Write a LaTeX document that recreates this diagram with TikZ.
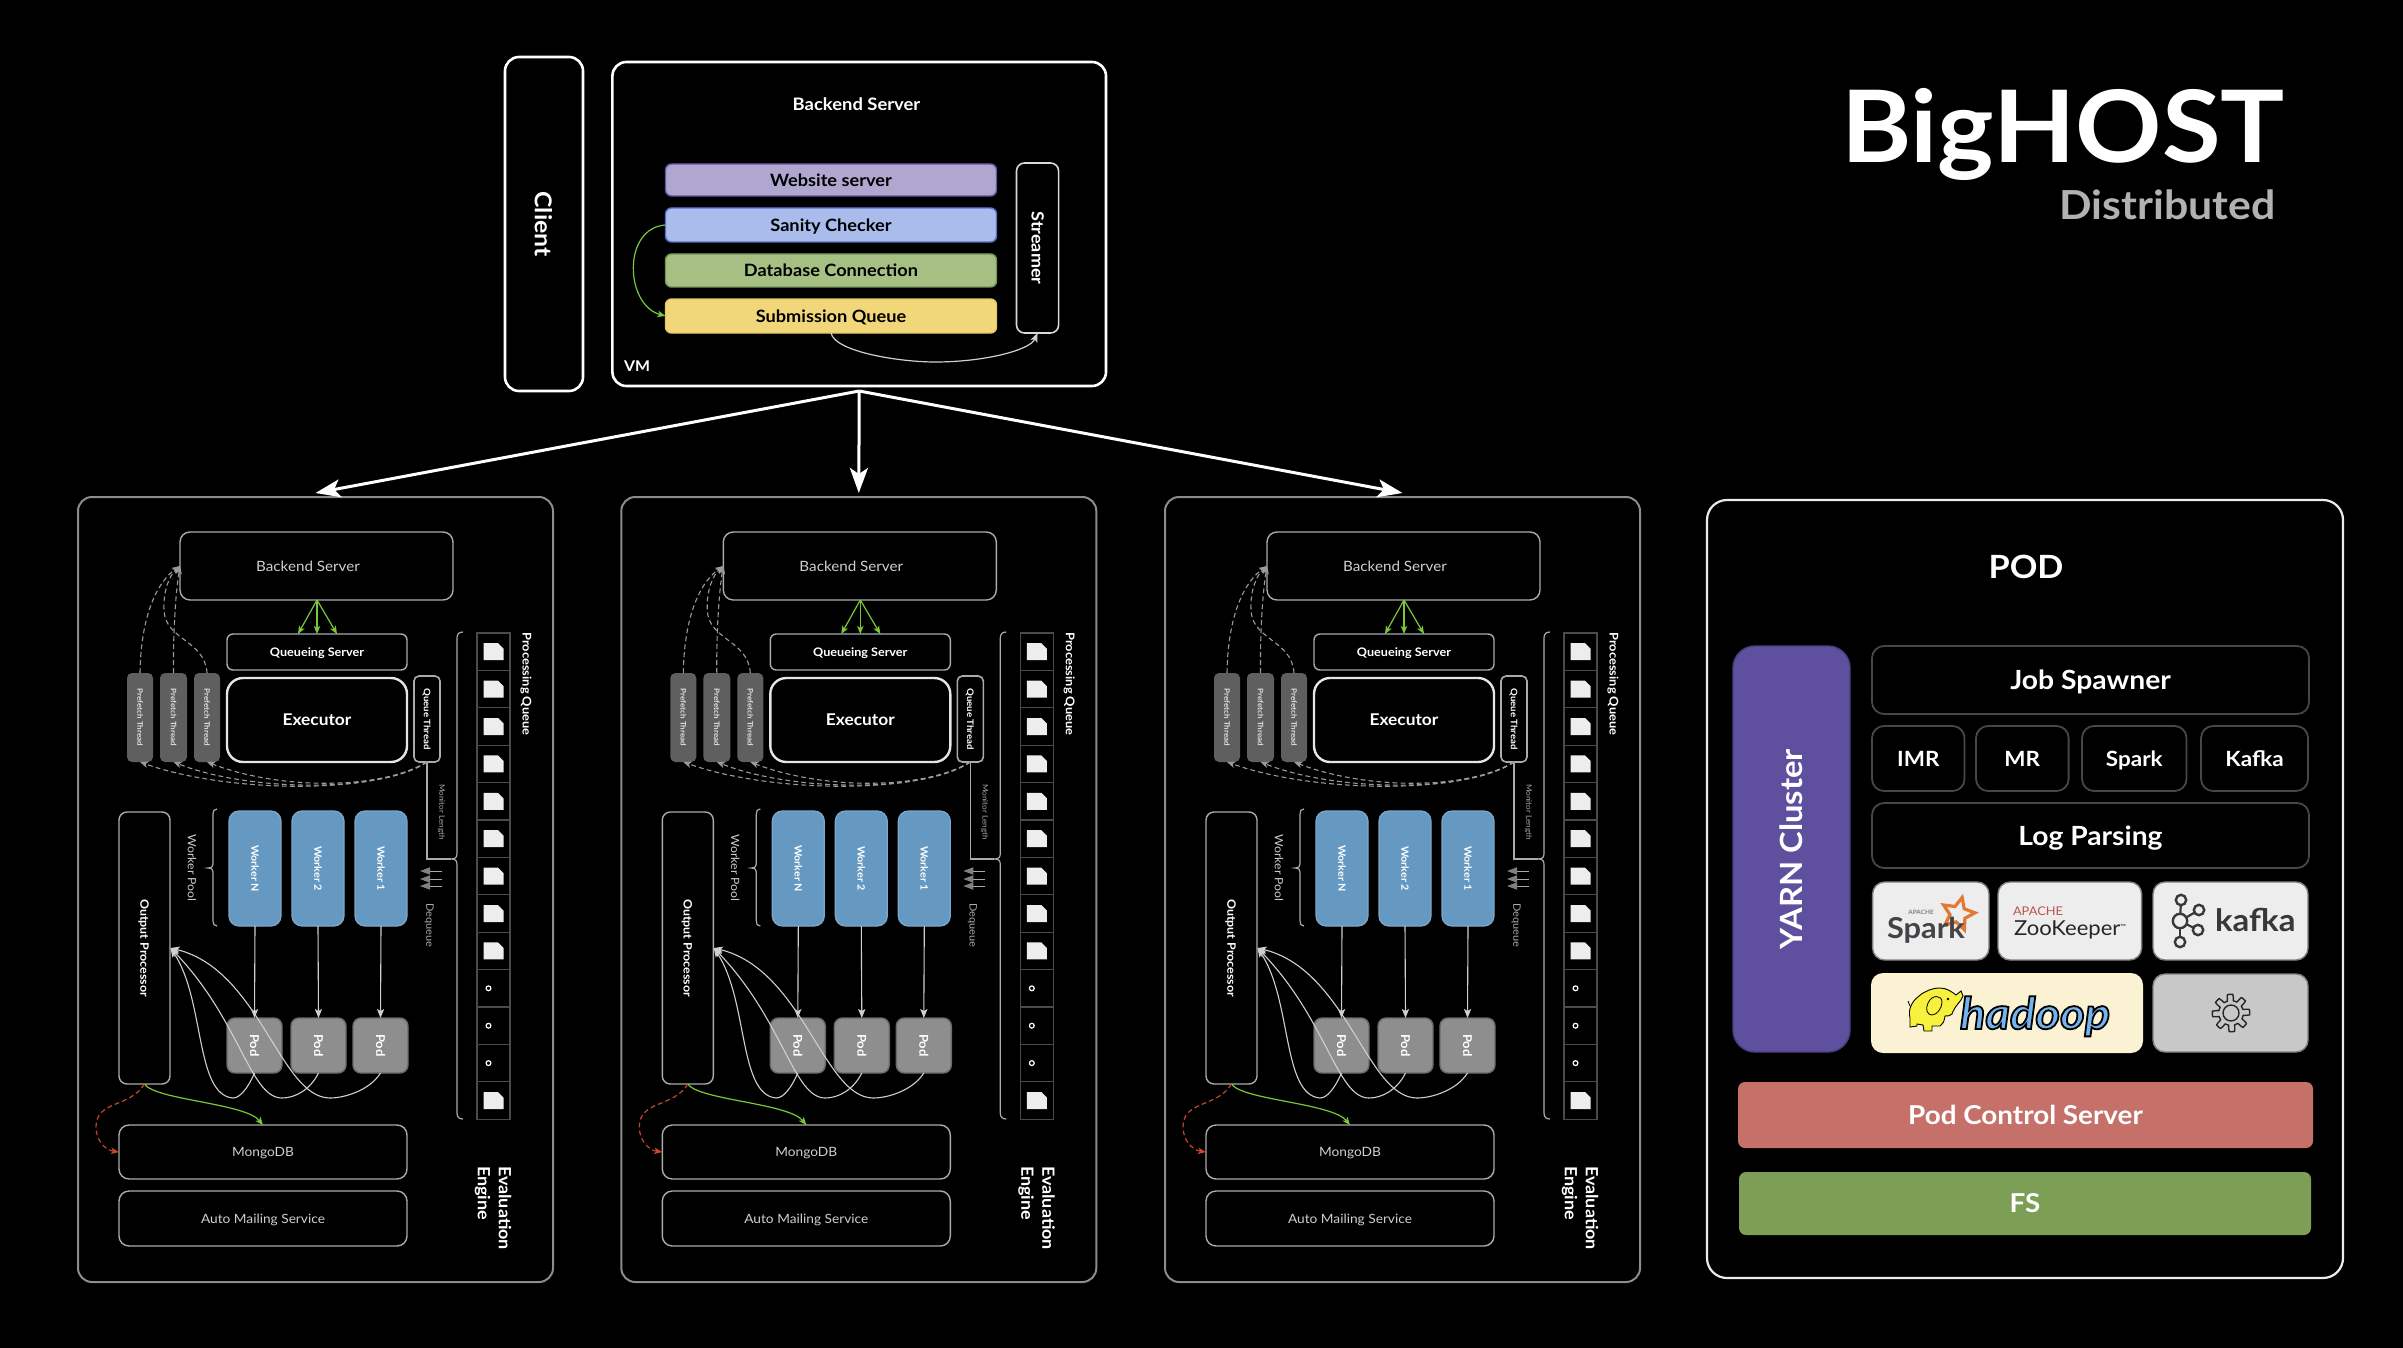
\documentclass[tikz,border=0pt]{standalone}
\usepackage{graphicx}
\usepackage{fontspec}
\setmainfont{Lato}[FakeStretch=1.07]
\usetikzlibrary{arrows.meta,shapes.geometric,calc}
\definecolor{pborder}{HTML}{8C8C8C}
\definecolor{iborder}{HTML}{ABABAB}
\definecolor{softtxt}{HTML}{CFCFCF}
\definecolor{dimb}{HTML}{474747}
\definecolor{cellb}{HTML}{4A4A4A}
\definecolor{grn}{HTML}{78C83A}
\definecolor{redd}{HTML}{C8472A}
\definecolor{dashc}{HTML}{9A9A9A}
\definecolor{workerc}{HTML}{6699C2}
\definecolor{podc}{HTML}{8E8E8E}
\definecolor{prefc}{HTML}{5F5F5F}
\definecolor{purp}{HTML}{5E4F9F}
\definecolor{logoc}{HTML}{EDEDED}
\newcommand{\fs}[1]{\fontsize{#1}{#1}\selectfont}
\newcommand{\ct}[1]{\rule{0pt}{.72em}\smash{#1}}
\newcommand{\cw}[1]{\rotatebox{-90}{\ct{#1}}}
\newcommand{\ccw}[1]{\rotatebox{90}{\ct{#1}}}
\newcommand{\bx}[7][]{\node[bxbase,#1,minimum width={((#5)-(#3))*.5pt},minimum height={((#6)-(#4))*.5pt}] (#2) at ({((#3)+(#5))/2},{((#4)+(#6))/2}) {#7};}
\newcommand{\bxh}[7][]{\bx[#1]{#2}{#3}{#4}{#5}{#6}{\ct{#7}}}
\tikzset{
  bxbase/.style={inner sep=0pt,outer sep=0pt,align=center,text=white},
  panelbox/.style={draw=pborder,line width=1pt,rounded corners=7pt},
  thinbox/.style={draw=iborder,line width=.7pt,rounded corners=5pt,text=softtxt,font=\fs{6.4}},
  qsbox/.style={draw=iborder,line width=.7pt,rounded corners=3pt,font=\fs{5.9}\bfseries},
  execbox/.style={draw=white!90!black,line width=1.2pt,rounded corners=8pt,font=\fs{8.1}\bfseries},
  qtbox/.style={draw=iborder,line width=.8pt,rounded corners=2.5pt,font=\fs{4.5}\bfseries},
  prefbox/.style={fill=prefc,rounded corners=2.5pt,font=\fs{3.75}\bfseries,text=white!88!black},
  opbox/.style={draw=iborder,line width=.7pt,rounded corners=4pt,font=\fs{5.8}\bfseries},
  workerbox/.style={fill=workerc,draw=workerc!85!white,line width=.6pt,rounded corners=5pt,font=\fs{5}\bfseries},
  podbox/.style={fill=podc,draw=podc!75!black,line width=.7pt,rounded corners=4pt,font=\fs{6.1}\bfseries},
  cellbox/.style={draw=cellb,line width=.6pt,minimum width=16.5pt,minimum height=18.7pt,inner sep=0pt,outer sep=0pt},
  lab/.style={inner sep=0pt,outer sep=0pt,text=white,align=center},
  sw/.style={line width=.55pt,draw=softtxt},
  vmbox/.style={draw=white,line width=1.3pt,rounded corners=7pt},
  bar/.style={rounded corners=3pt,line width=.7pt,font=\fs{8.5}\bfseries,text=black},
  dbox/.style={draw=dimb,line width=.9pt,rounded corners=6pt,font=\fs{13.2}\bfseries},
  dboxs/.style={draw=dimb,line width=.9pt,rounded corners=6pt,font=\fs{10.5}\bfseries},
  logobox/.style={fill=logoc,draw=gray,line width=.7pt,rounded corners=6pt},
  solidbar/.style={rounded corners=3.5pt,font=\fs{13}\bfseries},
  tipw/.style={-{Stealth[length=4.5pt,width=3.6pt,inset=1pt]}},
  tipg/.style={-{Stealth[length=4pt,width=3.2pt,inset=1pt]}}
}
\newcommand{\evalpanel}[2]{%
\begin{scope}[shift={(#2,0)},name prefix=#1-]
\bx[panelbox]{panel}{78}{497}{553}{1282}{}
\bxh[thinbox,font=\fs{7.1}]{backend}{180}{532}{453}{600}{\kern-8.5pt Backend Server}
\bxh[qsbox]{qs}{227}{634}{407}{670}{Queueing Server}
\bxh[execbox]{exec}{227}{678}{407}{762}{Executor}
\bx[qtbox]{qt}{414}{676}{440}{762}{\cw{Queue Thread}}
\bx[prefbox]{pfa}{127}{673}{153}{762}{\cw{Prefetch Thread}}
\bx[prefbox]{pfb}{160}{673}{187}{762}{\cw{Prefetch Thread}}
\bx[prefbox]{pfc}{194}{673}{220}{762}{\cw{Prefetch Thread}}
\bx[opbox]{op}{119}{812}{170}{1084}{\cw{Output Processor}}
\bx[workerbox]{wn}{229}{811}{281}{926}{\cw{Worker N}}
\bx[workerbox]{wt}{292}{811}{344}{926}{\cw{Worker 2}}
\bx[workerbox]{wo}{355}{811}{407}{926}{\cw{Worker 1}}
\bx[podbox]{pa}{227}{1018}{282}{1073}{\cw{Pod}}
\bx[podbox]{pb}{291}{1018}{346}{1073}{\cw{Pod}}
\bx[podbox]{pc}{353}{1018}{408}{1073}{\cw{Pod}}
\bxh[thinbox]{mongo}{119}{1125}{407}{1179}{MongoDB}
\bxh[thinbox]{mail}{119}{1191}{407}{1246}{Auto Mailing Service}
\node[lab,text=softtxt,font=\fs{5.7}] (wplab) at (192,868) {\cw{Worker Pool}};
\node[lab,text=iborder,font=\fs{3.8}] (mllab) at (442,812) {\cw{Monitor Length}};
\node[lab,text=iborder,font=\fs{5.1}] (dqlab) at (430,925) {\cw{Dequeue}};
\node[lab,font=\fs{6}\bfseries] (pqlab) at (527,684) {\cw{Processing Queue}};
\node[lab,font=\fs{8.4}\bfseries,anchor=north] (evlab) at (505,1166) {\cw{Evaluation}};
\node[lab,font=\fs{8.4}\bfseries,anchor=north] (enlab) at (484,1166) {\cw{Engine}};
% processing queue
\foreach \i in {0,...,12}{\node[cellbox] (cell\i) at (493.5,{633+37.4*(\i+.5)}) {};}
\foreach \i in {0,...,8,12}{\fill[white!93!black] (cell\i.center) ++(-10,-8.5) -- ++(14.5,0) -- ++(5.5,5.5) -- ++(0,11.5) -- ++(-20,0) -- cycle;}
\foreach \i in {9,10,11}{\draw[white,line width=.6pt] (cell\i.center) ++(-5,0) circle[radius=1.2pt];}
% braces
\coordinate (pqtip) at (451,859);
\coordinate (wptip) at (208,868);
\draw[iborder,line width=.6pt] (463,632) .. controls (459,632) and (457,634) .. (457,638) -- (457,853) .. controls (457,857) and (456,859) .. (pqtip) .. controls (456,859) and (457,861) .. (457,865) -- (457,1113) .. controls (457,1117) and (459,1119) .. (463,1119);
\draw[iborder,line width=.6pt] (217,809) .. controls (214,809) and (213,811) .. (213,814) -- (213,864) .. controls (213,866) and (212,868) .. (wptip) .. controls (212,868) and (213,870) .. (213,872) -- (213,921) .. controls (213,924) and (214,926) .. (217,926);
% connectors
\draw[iborder,line width=.6pt] (qt.south) |- (pqtip);
\draw[grn,line width=.6pt,tipg] (backend.south -| qs.north) -- ($(qs.north)+(-19,0)$);
\draw[grn,line width=.6pt,tipg] (backend.south -| qs.north) -- (qs.north);
\draw[grn,line width=.6pt,tipg] (backend.south -| qs.north) -- ($(qs.north)+(20,0)$);
\draw[dashc,line width=.55pt,dash pattern=on 2.4pt off 1.6pt,tipg] (pfa.north) .. controls (141,610) and (160,580) .. (backend.west);
\draw[dashc,line width=.55pt,dash pattern=on 2.4pt off 1.6pt,tipg] (pfb.north) .. controls (173,630) and (176,590) .. (backend.west);
\draw[dashc,line width=.55pt,dash pattern=on 2.4pt off 1.6pt,tipg] (pfc.north) .. controls (205,640) and (165,640) .. (164,610) .. controls (163,590) and (170,575) .. (backend.west);
\draw[dashc,line width=.55pt,dash pattern=on 2.4pt off 1.6pt,tipg] (qt.south) .. controls (380,794) and (230,794) .. (pfa.south);
\draw[dashc,line width=.55pt,dash pattern=on 2.4pt off 1.6pt,tipg] (qt.south) .. controls (380,793) and (250,792) .. (pfb.south);
\draw[dashc,line width=.55pt,dash pattern=on 2.4pt off 1.6pt,tipg] (qt.south) .. controls (380,790) and (280,790) .. (pfc.south);
\foreach \y [count=\k] in {871,879,886}{\coordinate (dqs\k) at (442,\y);\coordinate (dqe\k) at (420,\y);\draw[iborder,line width=.5pt,-{Stealth[length=5pt,width=3.6pt,inset=0pt,gray]}] (dqs\k) -- (dqe\k);}
\draw[sw,tipw] (wn.south) -- (pa.north);
\draw[sw,tipw] (wt.south) -- (pb.north);
\draw[sw,tipw] (wo.south) -- (pc.north);
\coordinate (opin) at (170.5,948);
\draw[sw,tipw] (pa.south) .. controls (248,1088) and (240,1098) .. (233,1098) .. controls (195,1095) and (205,1000) .. (opin);
\draw[sw,tipw] (pb.south) .. controls (310,1090) and (295,1098) .. (282,1098) .. controls (250,1098) and (240,1020) .. (opin);
\draw[sw,tipw] (pc.south) .. controls (370,1090) and (345,1098) .. (330,1098) .. controls (280,1098) and (260,970) .. (opin);
\draw[grn,line width=.6pt,tipg] (op.south) .. controls (155,1100) and (245,1103) .. (mongo.north);
\draw[redd,line width=.6pt,dash pattern=on 2.4pt off 1.6pt,tipg] (op.south) .. controls (130,1108) and (96,1100) .. (96,1127) .. controls (96,1140) and (105,1150) .. (mongo.west);
\end{scope}}
\begin{document}
\begin{tikzpicture}[x=.5pt,y=-.5pt]
\useasboundingbox[fill=black] (0,0) rectangle (2403,1348);
% title
\node[lab,anchor=base west,font=\fs{50}\bfseries] (title) at (1841,163) {BigHOST};
\node[lab,anchor=base east,text=white!70!black,font=\fs{20}\bfseries] (subtitle) at (2275.5,220) {Distributed};
% top
\bx[vmbox]{client}{505}{57}{583}{391}{\kern-2pt\cw{\fs{11.6}\bfseries Client}}
\bx[vmbox]{vm}{612.4}{62}{1106}{386}{}
\node[lab,font=\fs{8.6}\bfseries] (vmtitle) at (856.5,104) {\ct{Backend Server}};
\node[lab,font=\fs{7.4}\bfseries] (vmlab) at (637,366) {\ct{VM}};
\bxh[bar,fill={rgb,255:red,176;green,167;blue,208},draw={rgb,255:red,100;green,85;blue,165}]{web}{665.5}{164}{996.5}{196}{Website server}
\bxh[bar,fill={rgb,255:red,169;green,188;blue,236},draw={rgb,255:red,85;green,115;blue,200}]{sanity}{665.5}{208}{996.5}{242}{Sanity Checker}
\bxh[bar,fill={rgb,255:red,166;green,192;blue,132},draw={rgb,255:red,120;green,150;blue,90}]{dbc}{665.5}{254}{996.5}{287}{Database Connection}
\bxh[bar,fill={rgb,255:red,242;green,215;blue,122},draw={rgb,255:red,230;green,200;blue,100}]{subq}{665.5}{299}{996.5}{333}{Submission Queue}
\bx[draw=white!85!black,line width=.8pt,rounded corners=4pt,font=\fs{8.4}\bfseries]{stream}{1016.5}{163}{1058.6}{333}{\cw{Streamer}}
\draw[grn,line width=.6pt,tipg] (sanity.west) .. controls (622,228) and (625,305) .. (subq.west);
\draw[sw,line width=.6pt,tipw] (subq.south) .. controls (835,352) and (900,362) .. (935,362) .. controls (985,362) and (1030,350) .. (stream.south);
% panels
\evalpanel{a}{0}
\evalpanel{b}{543.3}
\evalpanel{c}{1087}
% main arrows
\coordinate (apex) at ($(vm.south)+(0,5)$);
\foreach \t in {a,b,c}{\draw[white,line width=1.5pt,-{Stealth[length=12.5pt,width=9pt,inset=3pt]}] (apex) -- ($(\t-panel.north)+(0,-4)$);}
% POD panel
\bx[draw=white!92!black,line width=1.1pt,rounded corners=10pt]{pod}{1707}{500}{2343}{1278}{}
\node[lab,font=\fs{16}\bfseries] (podtitle) at (2026,567) {\ct{POD}};
\bx[fill=purp,draw=purp!80!black,line width=.7pt,rounded corners=11pt,font=\fs{15.3}\bfseries]{yarn}{1733}{646}{1850}{1052}{\ccw{YARN Cluster}}
\bxh[dbox]{job}{1872}{646}{2309}{714}{Job Spawner}
\bxh[dboxs]{imr}{1872}{726}{1964.5}{791}{IMR}
\bxh[dboxs]{mr}{1976}{726}{2068.6}{791}{MR}
\bxh[dboxs]{sparkb}{2082}{726}{2186.5}{791}{Spark}
\bxh[dboxs]{kafkab}{2201}{726}{2308}{791}{Kafka}
\bxh[dbox]{logp}{1872}{803}{2309}{868}{Log Parsing}
\bx[logobox]{sparkl}{1872.6}{882}{1989}{960}{}
\bx[logobox]{zool}{1998}{882}{2141.6}{960}{}
\bx[logobox]{kafkal}{2153}{882}{2308}{960}{}
\bx[fill={rgb,255:red,251;green,241;blue,211},rounded corners=6pt]{hadl}{1871}{973}{2143}{1053}{}
\bx[fill={rgb,255:red,200;green,200;blue,200},draw=gray,line width=.7pt,rounded corners=6pt]{gearl}{2153}{974}{2308}{1052}{}
% spark logo
\node[star,star points=5,star point ratio=2.1,draw={rgb,255:red,226;green,120;blue,50},line width=1.6pt,minimum size=17pt,inner sep=0pt,rotate=-14] (sstar) at (1958,914) {};
\node[lab,anchor=base west,text={rgb,255:red,68;green,68;blue,72},font=\fs{14.4}\bfseries] (stext) at (1887,938) {Spark};
\node[lab,text=gray,font=\fs{3}\bfseries] (sapache) at (1921,912.5) {APACHE};
% zookeeper logo
\node[lab,anchor=base west,text={rgb,255:red,185;green,85;blue,80},font=\fs{6}] (zapache) at (2013,915) {APACHE};
\node[lab,anchor=base west,text=black!85,font=\fs{10.3}] (ztext) at (2014,935) {ZooKeeper\raisebox{3pt}{\fs{3.5}™}};
% kafka logo
\foreach \n/\xx/\yy/\rr in {ka/2181/900/2.6,kb/2180/942/2.6,kc/2199/910/2.6,kd/2198/930/2.6,ke/2180/921/3.6}{\node[circle,draw=black!78,line width=1.2pt,minimum size={\rr*2pt},inner sep=0pt,outer sep=0pt] (\n) at (\xx,\yy) {};}
\foreach \n in {ka,kb,kc,kd}{\draw[black!78,line width=1.1pt] (ke) -- (\n);}
\node[lab,anchor=base west,text=black!78,font=\fs{15.4}\bfseries] (ktext) at (2215,931) {kafka};
% hadoop logo
\begin{scope}[shift={(1907,988)}]
\filldraw[fill={rgb,255:red,247;green,240;blue,60},draw=black,line width=.45pt] (12,8) .. controls (18,3) and (25,0) .. (33,0) .. controls (40,0) and (45,4) .. (49,7) -- (54,3) -- (56,8) .. controls (54,14) and (48,17) .. (45,26) .. controls (43,29) and (41,27) .. (38,28) .. controls (37,34) and (36,36) .. (33,38) -- (25,38) -- (25,43) -- (17,43) -- (16,37) -- (10,36) -- (10,38) -- (3,39) -- (3,30) .. controls (1,22) and (4,14) .. (12,8) -- cycle;
\filldraw[fill={rgb,255:red,247;green,240;blue,60},draw=black,line width=.4pt] (21,15) .. controls (25,6) and (35,7) .. (35,14) .. controls (35,20) and (30,27) .. (25,27) .. controls (20,27) and (18,21) .. (21,15) -- cycle;
\fill[black] (41,11) circle[radius=.7pt];
\draw[black,line width=.4pt] (3,18) -- (1,13);
\end{scope}
\node[lab,anchor=base west,text={rgb,255:red,115;green,180;blue,240},font=\fs{22}\bfseries\itshape] (htext) at (1960,1029) {\special{pdf:code q 2 Tr 0.9 w 0 0 0 RG}hadoop\special{pdf:code Q}};
% gear
\draw[black!85,line width=.7pt,line join=round] plot[samples=193,domain=0:360] ({2231+(15.5+3.2*max(-1,min(1,2.6*cos(8*\x+22))))*cos(\x)},{1013+(15.5+3.2*max(-1,min(1,2.6*cos(8*\x+22))))*sin(\x)}) -- cycle;
\draw[black!85,line width=.7pt] (2231,1013) circle[radius=4pt];
% bottom bars
\bxh[solidbar,fill={rgb,255:red,197;green,113;blue,106}]{pcs}{1738}{1082}{2313}{1148}{Pod Control Server}
\bxh[solidbar,fill={rgb,255:red,125;green,158;blue,85}]{fs}{1739}{1172}{2311}{1235}{FS}
\end{tikzpicture}
\end{document}
